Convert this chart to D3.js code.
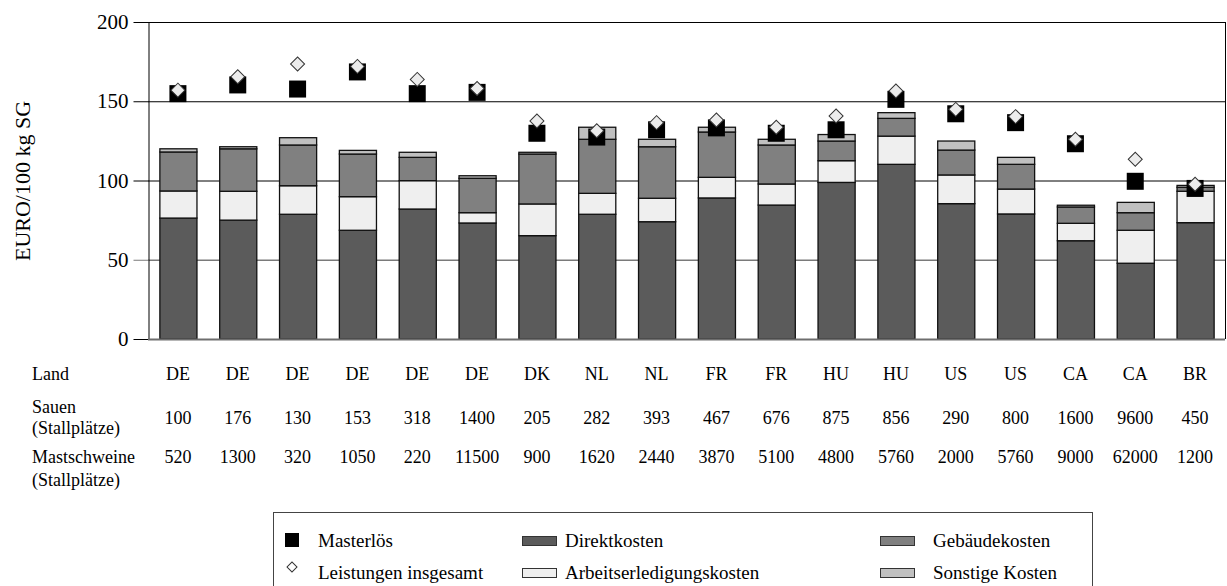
<!DOCTYPE html>
<html>
<head>
<meta charset="utf-8">
<script src="https://cdn.jsdelivr.net/npm/d3@7"></script>
<style>
  body { margin: 0; background: #fff; }
  svg text { font-family: "Liberation Serif", "Times New Roman", serif; fill: #000; }
</style>
</head>
<body>
<svg id="chart" width="1227" height="586"></svg>
<script>
// data
var land = ["DE","DE","DE","DE","DE","DE","DK","NL","NL","FR","FR","HU","HU","US","US","CA","CA","BR"];
var sauen = [100,176,130,153,318,1400,205,282,393,467,676,875,856,290,800,1600,9600,450];
var mastschweine = [520,1300,320,1050,220,11500,900,1620,2440,3870,5100,4800,5760,2000,5760,9000,62000,1200];

var direktkosten = [76.3,75,78.7,68.6,82,73.2,65.2,78.7,74,89,84.5,98.8,110.2,85.4,78.9,62,47.8,73.4];
var arbeitskosten = [17.1,18.2,18,21.2,17.9,6.5,20,13.2,14.8,13,13.3,13.7,17.8,18.1,15.7,11,20.8,19.8];
var gebaeudekosten = [24.6,26.8,25.7,26.9,14.7,21.7,31.5,34.1,32.5,28.6,24.6,12.4,11.2,15.7,15.6,10.3,11.1,2.5];
var sonstigeKosten = [2,1.3,4.6,2.3,3.2,1.6,1.1,7.6,4.7,3,3.6,4.1,3.6,5.7,4.4,1.1,6.5,1.2];

var masterloes = [154.8,160.3,157.7,168.5,154.8,155.6,129.8,127.4,132,133.2,129.8,132,151.2,142.1,136.5,123.2,99.5,95];
var leistungen = [157,165.5,173.5,172,163.8,158,137.5,131.4,136.5,138.2,133.6,140.7,156.5,144.9,140.3,126,113.4,97.6];

var yTicks = [0,50,100,150,200];

var seriesKeys = ["direkt","arbeit","gebaeude","sonstige"];
var seriesColor = {direkt:"#5b5b5b", arbeit:"#efefef", gebaeude:"#808080", sonstige:"#c0c0c0"};

// build table for the stack
var rows = land.map(function(l, i){
    return {i: i, direkt: direktkosten[i], arbeit: arbeitskosten[i],
	    gebaeude: gebaeudekosten[i], sonstige: sonstigeKosten[i]};
});

var svg = d3.select("#chart");
// note: "top" is taken by window.top, so use plot_* names
var plot_left = 148, plot_right = 1225, plot_top = 22, plot_bottom = 339;

var x = d3.scaleBand().domain(d3.range(land.length)).range([plot_left, plot_right])
    .paddingInner(0.38).paddingOuter(0.19);
var y = d3.scaleLinear().domain([0, 200]).range([plot_bottom, plot_top]);

// gridlines
svg.append("g").selectAll("line").data(yTicks.filter(function(t){ return t > 0; }))
    .enter().append("line")
    .attr("x1", plot_left).attr("x2", plot_right)
    .attr("y1", function(d){ return y(d) + 0.5; }).attr("y2", function(d){ return y(d) + 0.5; })
    .attr("stroke", function(d){ return d === 50 ? "#7a7a7a" : "#000"; })
    .attr("stroke-width", function(d){ return d === 50 ? 1.5 : 1; });

// right frame
svg.append("line").attr("x1", plot_right + 0.5).attr("x2", plot_right + 0.5)
    .attr("y1", y(200)).attr("y2", y(0)).attr("stroke", "#000");

// stacked bars
var stack = d3.stack().keys(seriesKeys)(rows);
svg.append("g").selectAll("g").data(stack).enter().append("g")
    .attr("fill", function(s){ return seriesColor[s.key]; })
    .selectAll("rect").data(function(s){ return s; }).enter().append("rect")
    .attr("x", function(d){ return x(d.data.i) + 0.5; })
    .attr("y", function(d){ return y(d[1]); })
    .attr("width", x.bandwidth())
    .attr("height", function(d){ return y(d[0]) - y(d[1]); })
    .attr("stroke", "#111").attr("stroke-width", 1.3);

// y axis
var yAxis = d3.axisLeft(y).tickValues(yTicks).tickSize(15).tickSizeOuter(0).tickPadding(5);
var ga = svg.append("g").attr("transform", "translate(" + (plot_left + 0.5) + ",0)").call(yAxis);
ga.select(".domain").attr("stroke", "#000");
ga.selectAll(".tick line").attr("stroke", function(d){ return d === 50 ? "#7a7a7a" : "#000"; });
ga.selectAll(".tick text").style("font-size", "21px").style("font-family", "Liberation Serif, serif");

// baseline
svg.append("line").attr("x1", plot_left).attr("x2", plot_right)
    .attr("y1", y(0) + 0.5).attr("y2", y(0) + 0.5)
    .attr("stroke", "#6e6e6e").attr("stroke-width", 2);

// markers
var cx = function(i){ return x(i) + x.bandwidth() / 2; };
svg.append("g").selectAll("rect").data(masterloes).enter().append("rect")
    .attr("x", function(d, i){ return cx(i) - 8.5; })
    .attr("y", function(d){ return y(d) - 8.5; })
    .attr("width", 17).attr("height", 17).attr("fill", "#000");

var diamond = d3.symbol().type(d3.symbolSquare).size(98);
svg.append("g").selectAll("path").data(leistungen).enter().append("path")
    .attr("d", diamond)
    .attr("transform", function(d, i){ return "translate(" + cx(i) + "," + y(d) + ") rotate(45)"; })
    .attr("fill", "#ececec").attr("stroke", "#333").attr("stroke-width", 1);

// y label
svg.append("text").attr("transform", "translate(30,181) rotate(-90)")
    .attr("text-anchor", "middle").style("font-size", "22px").text("EURO/100 kg SG");

// table below the chart
var tbl = svg.append("g").style("font-size", "18px");
tbl.append("text").attr("x", 32).attr("y", 380).text("Land");
tbl.append("text").attr("x", 32).attr("y", 413).text("Sauen");
tbl.append("text").attr("x", 32).attr("y", 434).text("(Stallplätze)");
tbl.append("text").attr("x", 32).attr("y", 463).text("Mastschweine");
tbl.append("text").attr("x", 32).attr("y", 486).text("(Stallplätze)");

tbl.selectAll("text.land").data(land).enter().append("text").attr("class", "land")
    .attr("x", function(d, i){ return cx(i); }).attr("y", 380)
    .attr("text-anchor", "middle").text(function(d){ return d; });
tbl.selectAll("text.sau").data(sauen).enter().append("text").attr("class", "sau")
    .attr("x", function(d, i){ return cx(i); }).attr("y", 424)
    .attr("text-anchor", "middle").text(function(d){ return d; });
tbl.selectAll("text.mast").data(mastschweine).enter().append("text").attr("class", "mast")
    .attr("x", function(d, i){ return cx(i); }).attr("y", 463)
    .attr("text-anchor", "middle").text(function(d){ return d; });

// legend
var lg = svg.append("g").style("font-size", "19px");
lg.append("rect").attr("x", 273.5).attr("y", 512.5).attr("width", 819).attr("height", 100)
    .attr("fill", "none").attr("stroke", "#444");

lg.append("rect").attr("x", 285).attr("y", 533).attr("width", 14).attr("height", 14).attr("fill", "#000");
lg.append("text").attr("x", 318).attr("y", 547).text("Masterlös");
lg.append("path").attr("d", d3.symbol().type(d3.symbolSquare).size(50))
    .attr("transform", "translate(292,567) rotate(45)")
    .attr("fill", "#fff").attr("stroke", "#333");
lg.append("text").attr("x", 318).attr("y", 579).text("Leistungen insgesamt");

var legendSwatches = [
    {key: "direkt", label: "Direktkosten", x: 522, y: 536},
    {key: "arbeit", label: "Arbeitserledigungskosten", x: 522, y: 568},
    {key: "gebaeude", label: "Gebäudekosten", x: 880, y: 536},
    {key: "sonstige", label: "Sonstige Kosten", x: 880, y: 568}
];
legendSwatches.forEach(function(s){
    lg.append("rect").attr("x", s.x + 0.5).attr("y", s.y + 0.5).attr("width", 34).attr("height", 9)
	.attr("fill", seriesColor[s.key]).attr("stroke", "#333");
    lg.append("text").attr("x", s.x + (s.x > 800 ? 53 : 43)).attr("y", s.y + 11).text(s.label);
});
</script>
</body>
</html>
